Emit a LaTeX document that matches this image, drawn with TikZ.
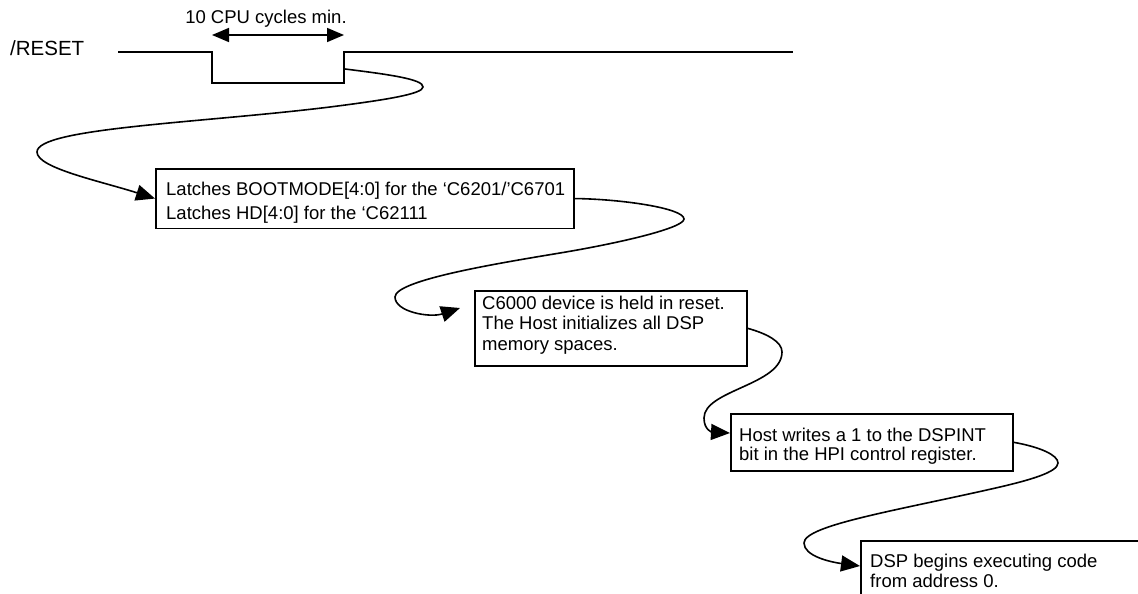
\documentclass[tikz,border=0pt]{standalone}
\usepackage{fontspec}
\setmainfont{Liberation Sans}
\usetikzlibrary{arrows.meta,calc}
\begin{document}
\begin{tikzpicture}[x=1pt,y=-1pt,
  wave/.style={line width=1.6pt},
  dimarrow/.style={line width=1.6pt,{Triangle[length=17pt,width=14pt]}-{Triangle[length=17pt,width=14pt]}},
  conn/.style={line width=1.6pt,-{Triangle[length=19pt,width=16pt]}},
  box/.style={draw,line width=1.6pt,inner sep=0pt,anchor=north west},
  txt/.style={inner sep=0pt,anchor=north west,align=left},
  lbl/.style={inner sep=0pt}]
\useasboundingbox (0,0) rectangle (1138,594);
\clip (0,0) rectangle (1138,594);

% /RESET waveform
\coordinate (w0) at (118,52);
\coordinate (w1) at (212,52);
\coordinate (w2) at (212,83);
\coordinate (w3) at (344,83);
\coordinate (w4) at (344,52);
\coordinate (w5) at (793,52);
\draw[wave] (w0) -- (w1) -- (w2) -- (w3) -- (w4) -- (w5);
\node[lbl,anchor=base west,font=\fontsize{20.5pt}{24pt}\selectfont] (rst) at (10,56) {/RESET};

% pulse width
\coordinate (pa) at (212,35);
\coordinate (pb) at (344,35);
\draw[dimarrow] (pa) -- (pb);
\node[lbl,anchor=base,font=\fontsize{18.5pt}{22pt}\selectfont] (cyc) at (266,24) {10 CPU cycles min.};

% boxes
\node[box,minimum width=418pt,minimum height=59.5pt] (b1) at (155,168) {};
\node[txt,font=\fontsize{18.5pt}{24pt}\selectfont] (t1) at (166,180)
  {\rule{0pt}{15pt}Latches BOOTMODE[4:0] for the ‘C6201/’C6701\\Latches HD[4:0] for the ‘C62111};

\node[box,minimum width=272pt,minimum height=75pt] (b2) at (474,290) {};
\node[txt,font=\fontsize{18.5pt}{20.5pt}\selectfont] (t2) at (482,294)
  {\rule{0pt}{15pt}C6000 device is held in reset.\\The Host initializes all DSP\\memory spaces.};

\node[box,minimum width=282pt,minimum height=57pt] (b3) at (730,413) {};
\node[txt,font=\fontsize{18.5pt}{19.5pt}\selectfont] (t3) at (739,426)
  {\rule{0pt}{15pt}Host writes a 1 to the DSPINT\\bit in the HPI control register.};

\node[box,minimum width=300pt,minimum height=80pt] (b4) at (860,540) {};
\node[txt,font=\fontsize{18.5pt}{20pt}\selectfont] (t4) at (870,552)
  {\rule{0pt}{15pt}DSP begins executing code\\from address 0.};

% connectors
\coordinate (s1) at (345,69);
\coordinate (e2) at (460,308);
\coordinate (e3) at (730,433);
\coordinate (e4) at (860,566);

\draw[conn] (s1) .. controls (385,74) and (424,79) .. (423,87)
  .. controls (423,94) and (385,100) .. (330,107)
  .. controls (200,123) and (37,128) .. (37,152)
  .. controls (37,168) and (100,181) .. (b1.west);

\draw[conn] (b1.east) .. controls (620,199) and (684,208) .. (684,219)
  .. controls (684,228) and (620,243) .. (560,253)
  .. controls (500,263) and (395,280) .. (395,297)
  .. controls (395,312) and (430,318) .. (e2);

\draw[conn] (b2.east) .. controls (768,334) and (782,342) .. (782,352)
  .. controls (782,385) and (704,390) .. (704,418)
  .. controls (704,430) and (712,432) .. (e3);

\draw[conn] (b3.east) .. controls (1040,447) and (1058,455) .. (1058,463)
  .. controls (1058,472) and (1030,480) .. (1000,487)
  .. controls (900,510) and (804,525) .. (804,543)
  .. controls (804,556) and (830,562) .. (e4);
\end{tikzpicture}
\end{document}
